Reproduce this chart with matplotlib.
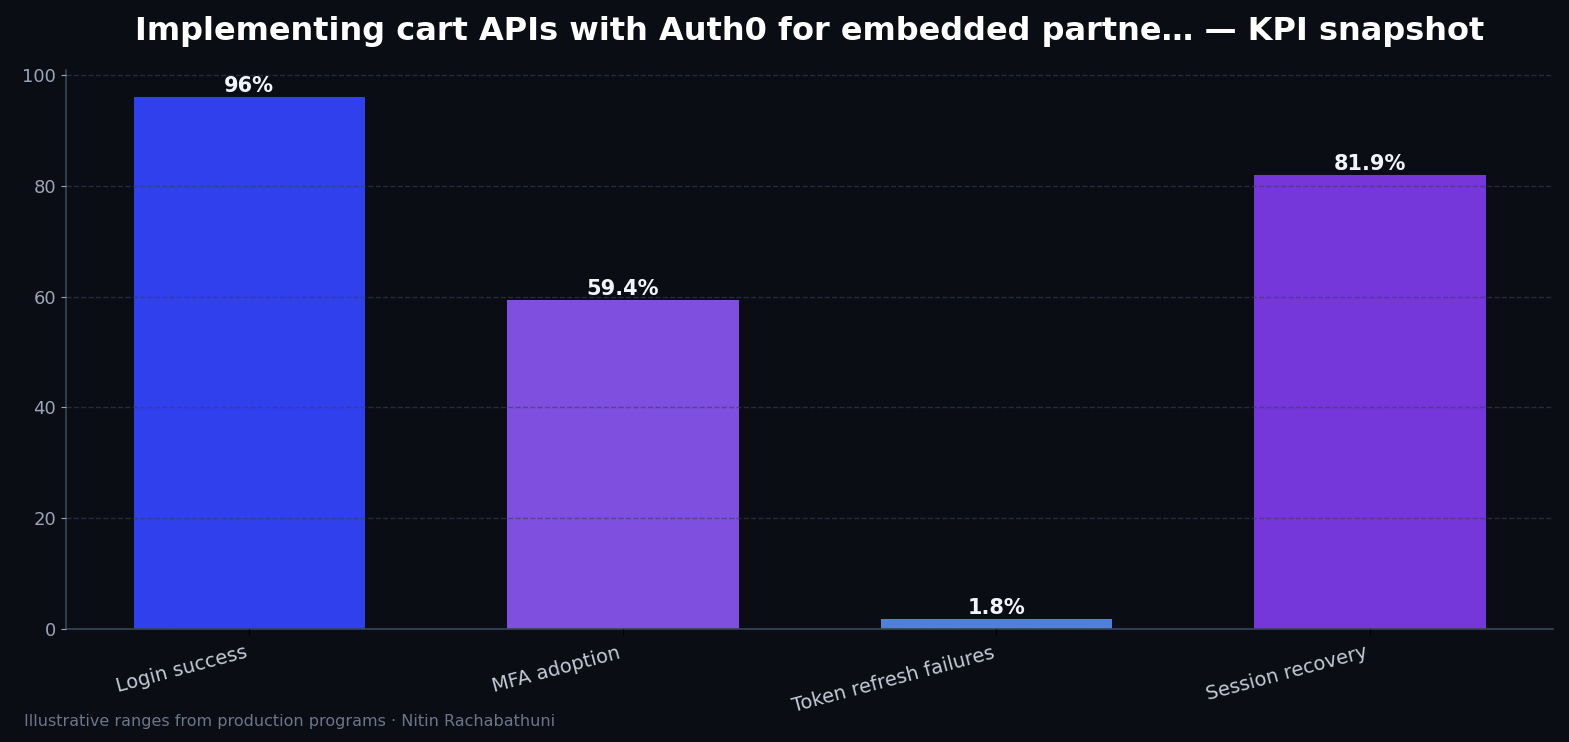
import matplotlib.pyplot as plt
import numpy as np

# KPI data
categories = ["Login success", "MFA adoption", "Token refresh failures", "Session recovery"]
values = [96, 59.4, 1.8, 81.9]
bar_colors = ["#2f40ec", "#7f4fdf", "#5080dc", "#7537d9"]
labels = ["96%", "59.4%", "1.8%", "81.9%"]

bg = "#0a0d14"
fig, ax = plt.subplots(figsize=(15.69, 7.42), dpi=100)
fig.patch.set_facecolor(bg)
ax.set_facecolor(bg)

x = np.arange(len(categories))
bars = ax.bar(x, values, width=0.62, color=bar_colors, zorder=1)

for b, lab in zip(bars, labels):
    ax.text(b.get_x() + b.get_width() / 2, b.get_height() + 0.2, lab,
            ha="center", va="bottom", color="#f2f4f8", fontsize=15, fontweight="bold")

ax.set_ylim(0, 96 * 1.05)
ax.set_yticks([0, 20, 40, 60, 80, 100])
ax.grid(axis="y", linestyle="--", color="#3a3f5a", alpha=0.6, linewidth=1, zorder=2)
ax.set_axisbelow(False)

ax.set_xticks(x)
ax.set_xticklabels(categories, rotation=15, ha="right", fontsize=14)
ax.tick_params(axis="y", colors="#9aa5b8", labelsize=13)
ax.tick_params(axis="x", colors="#000000", length=4, pad=6)
for lbl in ax.get_xticklabels():
    lbl.set_color("#c5cbd6")

for s in ["top", "right"]:
    ax.spines[s].set_visible(False)
for s in ["left", "bottom"]:
    ax.spines[s].set_color("#39455a")
    ax.spines[s].set_linewidth(1.2)

ax.set_title("Implementing cart APIs with Auth0 for embedded partne\u2026 \u2014 KPI snapshot",
             color="#ffffff", fontsize=23, fontweight="bold", pad=22)

fig.text(0.015, 0.022, "Illustrative ranges from production programs \u00b7 Nitin Rachabathuni",
         color="#6b7689", fontsize=11.5)

plt.subplots_adjust(left=0.042, right=0.99, top=0.905, bottom=0.152)
plt.savefig("out.png", facecolor=bg)
